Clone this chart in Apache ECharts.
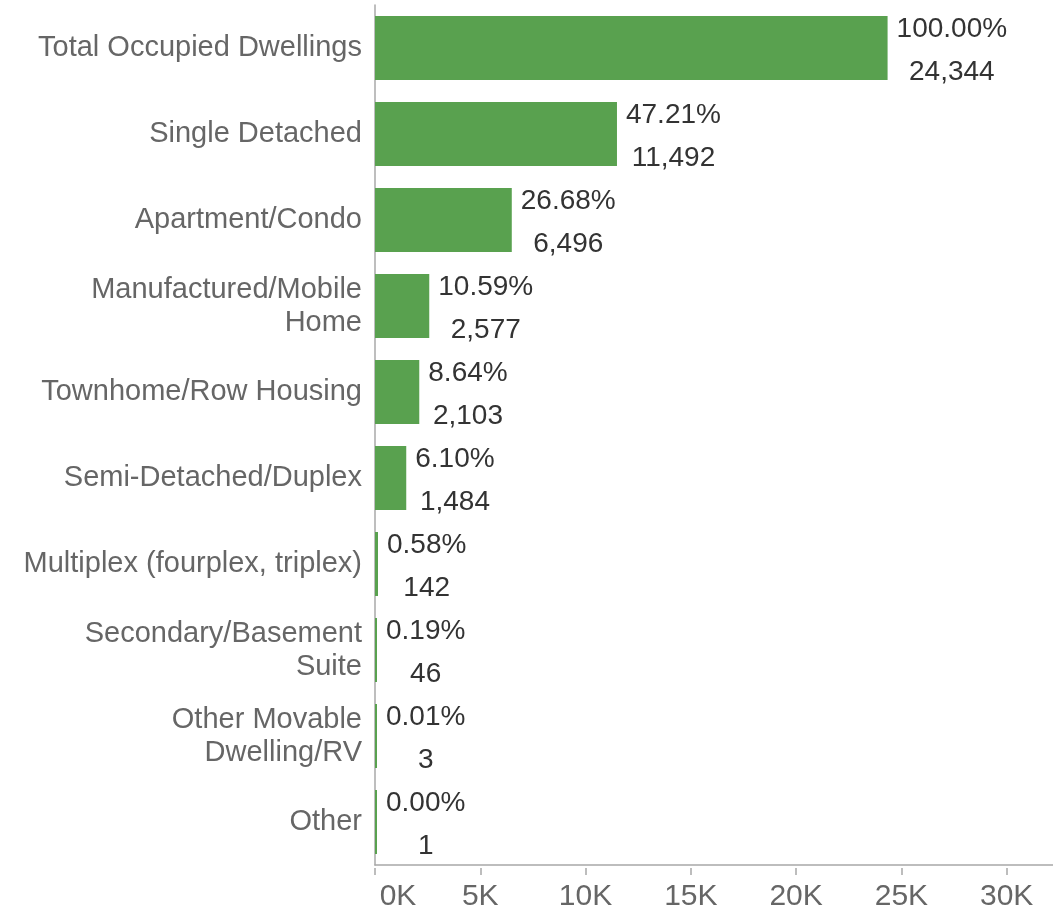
<!DOCTYPE html>
<html>
<head>
<meta charset="utf-8">
<script src="https://cdn.jsdelivr.net/npm/echarts@6/dist/echarts.min.js"></script>
<style>
  html, body { margin: 0; padding: 0; background: #fff; }
  #chart { width: 1053px; height: 913px; }
</style>
</head>
<body>
<div id="chart"></div>
<script>
const categories = [
  'Total Occupied Dwellings',
  'Single Detached',
  'Apartment/Condo',
  'Manufactured/Mobile\nHome',
  'Townhome/Row Housing',
  'Semi-Detached/Duplex',
  'Multiplex (fourplex, triplex)',
  'Secondary/Basement\nSuite',
  'Other Movable\nDwelling/RV',
  'Other'
]
const dwellings = [24344, 11492, 6496, 2577, 2103, 1484, 142, 46, 3, 1]
const xTicks = [0, 5000, 10000, 15000, 20000, 25000, 30000]

const total = dwellings[0]
const fontFamily = '"Liberation Sans", Arial, sans-serif'

const chart = echarts.init(document.getElementById('chart'))
chart.setOption({
  animation: false,
  backgroundColor: '#fff',
  textStyle: { fontFamily },
  grid: { left: 375, right: 0, top: 5, bottom: 48, containLabel: false },
  xAxis: [
    {
      type: 'value',
      min: 0,
      max: 32200,
      axisLine: { show: true, lineStyle: { color: '#a8a8a8', width: 1.5 } },
      axisTick: { show: false },
      axisLabel: { show: false },
      splitLine: { show: false }
    },
    {
      type: 'value',
      position: 'bottom',
      offset: 3,
      min: 0,
      max: 32200,
      axisLine: { show: false },
      axisTick: { show: true, length: 7, customValues: xTicks, lineStyle: { color: '#a8a8a8', width: 1.5 } },
      axisLabel: {
        customValues: xTicks,
        fontSize: 30,
        color: '#666',
        margin: 14,
        formatter: (v) => (v === 0 ? '{first|0K}' : v / 1000 + 'K'),
        rich: { first: { fontSize: 30, color: '#666', padding: [0, 0, 0, 46] } }
      },
      splitLine: { show: false }
    }
  ],
  yAxis: {
    type: 'category',
    inverse: true,
    data: categories,
    axisLine: { show: true, lineStyle: { color: '#a8a8a8', width: 1.5 } },
    axisTick: { show: false },
    axisLabel: { fontSize: 29, color: '#666', margin: 13, lineHeight: 33 }
  },
  series: [
    {
      type: 'bar',
      xAxisIndex: 0,
      data: dwellings,
      barWidth: 64,
      barMinHeight: 2,
      itemStyle: { color: '#59a14f' },
      label: {
        show: true,
        position: 'right',
        distance: 9,
        offset: [0, 3],
        formatter: (p) =>
          '{p|' + ((p.value / total) * 100).toFixed(2) + '%}\n{v|' + p.value.toLocaleString('en-US') + '}',
        rich: {
          p: { fontSize: 28, color: '#333', lineHeight: 43, align: 'center' },
          v: { fontSize: 28, color: '#333', lineHeight: 43, align: 'center' }
        }
      }
    }
  ]
})
</script>
</body>
</html>
